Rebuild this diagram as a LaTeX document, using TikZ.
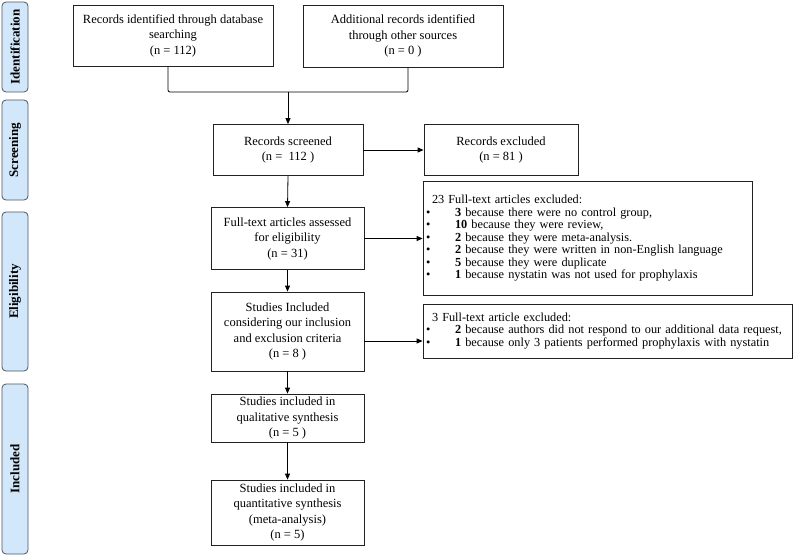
\documentclass[tikz,border=0pt]{standalone}
\usepackage{fontspec}
\setmainfont{Liberation Serif}
\usetikzlibrary{arrows.meta}

\definecolor{couleurbackphas}{HTML}{D2E8FA}
\definecolor{couleurbordphas}{HTML}{4A5563}
\definecolor{couleurtrait}{HTML}{222222}
\newcommand{\lienhorz}[2]{\draw[->] (#1.east) -- (#2.west);}
\newcommand{\lienvtbs}[2]{\draw[->] (#1.south) -- (#2.north);}
\newcommand{\puce}{\hspace*{-6pt}\makebox[29pt][l]{\textbullet}}
\tikzset{
		>={Triangle[length=6pt,width=5pt]},
		basic/.style={draw=couleurtrait, inner sep=0pt, align=center, font=\fontsize{12.5}{15.5}\selectfont},
		etape/.style={basic},
		exclu/.style={basic, align=left, inner xsep=9pt, font=\fontsize{12.3}{12.5}\selectfont},
		phase/.style={draw=couleurbordphas, fill=couleurbackphas, rounded corners=4pt, rotate=90, minimum height=26pt, inner sep=0pt, font=\fontsize{13}{13}\selectfont\bfseries}
	}

\begin{document}
\begin{tikzpicture}[x=1pt, y=-1pt, line width=0.8pt]
		\useasboundingbox (0,0) rectangle (794,556);
		% phases
		\node[phase, minimum width=90pt] (identif) at (15,47) {Identification};
		\node[phase, minimum width=100pt] (screenin) at (15,150) {Screening};
		\node[phase, minimum width=159pt] (eligibil) at (15,291.5) {Eligibility};
		\node[phase, minimum width=170pt] (included) at (15,469) {Included};

		% colonne principale
		\node[etape, minimum width=200pt, minimum height=61pt] (recsiden) at (173,35.5) {Records identified through database\\searching\\(n = 112)};
		\node[etape, minimum width=200pt, minimum height=62pt] (recsaddi) at (403,36) {Additional records identified\\through other sources\\(n = 0 )};
		\node[etape, minimum width=150pt, minimum height=51pt] (recsscre) at (288,150) {Records screened\\(n =\ \ 112 )};
		\node[etape, minimum width=153pt, minimum height=62pt] (fullasse) at (287.5,238.5) {Full-text articles assessed\\for eligibility\\(n = 31)};
		\node[etape, minimum width=153pt, minimum height=79pt] (studincl) at (287.5,331.5) {Studies Included\\considering our inclusion\\and exclusion criteria\\(n = 8 )};
		\node[etape, minimum width=153pt, minimum height=48pt] (studqual) at (287.5,418) {Studies included in\\qualitative synthesis\\(n = 5 )};
		\node[etape, minimum width=153pt, minimum height=65pt] (studquan) at (287.5,512.5) {Studies included in\\quantitative synthesis\\(meta-analysis)\\(n = 5)};

		% exclusions
		\node[etape, minimum width=154pt, minimum height=51pt] (recsexcl) at (501,150) {Records excluded\\(n = 81 )};
		\node[exclu, text width=311pt, minimum height=114pt] (fullexcl) at (587.5,238.5) {23 Full-text articles excluded:\\
			\puce\textbf{3} because there were no control group,\\
			\puce\textbf{10} because they were review,\\
			\puce\textbf{2} because they were meta-analysis.\\
			\puce\textbf{2} because they were written in non-English language\\
			\puce\textbf{5} because they were duplicate\\
			\puce\textbf{1} because nystatin was not used for prophylaxis};
		\node[exclu, text width=351pt, minimum height=54pt] (studexcl) at (607.5,331) {3 Full-text article excluded:\\
			\puce\textbf{2} because authors did not respond to our additional data request,\\
			\puce\textbf{1} because only 3 patients performed prophylaxis with nystatin};

		% Liens
		\coordinate (jonction) at (288,92);
		\draw[rounded corners=2pt] ([xshift=-5pt]recsiden.south) |- (jonction) -| ([xshift=5pt]recsaddi.south);
		\draw[->] (jonction) -- (recsscre.north);

		\lienvtbs{recsscre}{fullasse}
		\lienvtbs{fullasse}{studincl}
		\lienvtbs{studincl}{studqual}
		\lienvtbs{studqual}{studquan}

		\lienhorz{recsscre}{recsexcl}
		\lienhorz{fullasse}{fullexcl}
		\draw[->] ([yshift=-9.5pt]studincl.east) -- ([yshift=-9.5pt]studincl.east -| studexcl.west);
	\end{tikzpicture}
\end{document}
